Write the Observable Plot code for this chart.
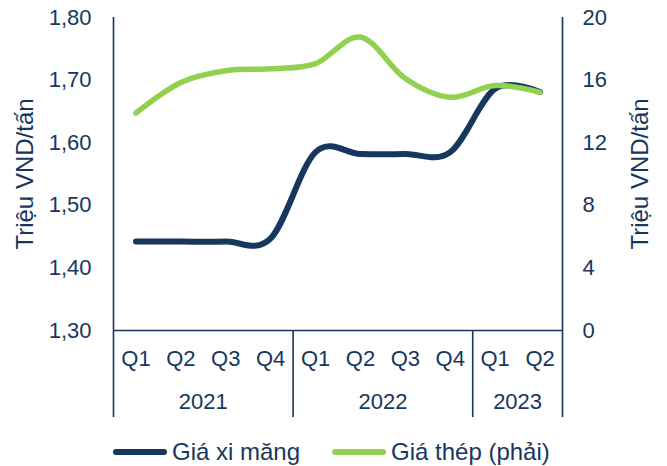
<!DOCTYPE html>
<html><head><meta charset="utf-8">
<script src="https://cdn.jsdelivr.net/npm/d3@7"></script>
<script src="https://cdn.jsdelivr.net/npm/@observablehq/plot@0.6"></script>
<style>
body{margin:0;background:#fff;font-family:"Liberation Sans",Arial,sans-serif;}
#wrap{position:relative;width:667px;height:466px;overflow:hidden;}
#chart svg{display:block;}
.leg{position:absolute;top:436px;height:32px;display:flex;align-items:center;font-size:24px;color:#17375e;white-space:nowrap;}
.sw{display:inline-block;width:54px;height:6px;border-radius:3px;margin-right:5px;}
</style></head><body><div id="wrap"><div id="chart"></div></div>
<script>
const quarters = ["Q1","Q2","Q3","Q4","Q1","Q2","Q3","Q4","Q1","Q2"];
const years = ["2021","2022","2023"];
const yearCounts = [4,4,2];
const cement = [1.442,1.442,1.442,1.447,1.585,1.582,1.582,1.585,1.686,1.681];
const steel = [13.9,15.85,16.6,16.72,17.05,18.75,16.1,14.9,15.65,15.22];
const seriesNames = ["Giá xi măng","Giá thép (phải)"];
const seriesColors = ["#17375e","#92d050"];
const leftTicks = [1.3,1.4,1.5,1.6,1.7,1.8];
const rightTicks = [0,4,8,12,16,20];
const axisTitle = "Triệu VND/tấn";

const leftMin = 1.3, leftMax = 1.8, rightMax = 20;
const toLeft = v => leftMin + v / rightMax * (leftMax - leftMin);
const fromLeft = d => Math.round((d - leftMin) / (leftMax - leftMin) * rightMax);

const cementData = cement.map((v, i) => ({i, v}));
const steelData = steel.map((v, i) => ({i, v: toLeft(v)}));

let start = 0;
const yearCenters = yearCounts.map(c => { const m = start + c / 2 - 0.5; start += c; return m; });
const dividers = [-0.5];
{ let s = -0.5; yearCounts.forEach(c => { s += c; dividers.push(s); }); }

const navy = "#17375e";
const chart = Plot.plot({
  width: 667, height: 432,
  marginLeft: 113, marginRight: 105, marginTop: 17, marginBottom: 102,
  style: {fontFamily: '"Liberation Sans", Arial, sans-serif', fontSize: "22px", color: navy, background: "#fff"},
  x: {domain: [-0.5, 9.5]},
  y: {domain: [leftMin, leftMax]},
  marks: [
    Plot.axisY(leftTicks, {anchor: "left", tickSize: 0, tickPadding: 22, label: null, fontSize: 22,
      tickFormat: d => d.toFixed(2).replace(".", ",")}),
    Plot.axisY(rightTicks.map(toLeft), {anchor: "right", tickSize: 0, tickPadding: 20, label: null, fontSize: 22,
      tickFormat: d => String(fromLeft(d))}),
    Plot.axisX(d3.range(quarters.length), {tickSize: 0, tickPadding: 20, label: null, fontSize: 22,
      tickFormat: i => quarters[i]}),
    Plot.axisX(yearCenters, {tickSize: 0, tickPadding: 63, label: null, fontSize: 22,
      tickFormat: d => years[yearCenters.indexOf(d)]}),
    Plot.axisX(dividers, {tickSize: 87, tickFormat: () => "", label: null, stroke: navy, strokeWidth: 1.6, strokeOpacity: 1}),
    Plot.ruleX([-0.5, 9.5], {stroke: navy, strokeWidth: 1.6}),
    Plot.ruleY([leftMin], {stroke: navy, strokeWidth: 1.6}),
    Plot.text([axisTitle], {frameAnchor: "left", dx: -88, rotate: -90, fontSize: 24, fill: navy, textAnchor: "middle", lineAnchor: "middle"}),
    Plot.text([axisTitle], {frameAnchor: "right", dx: 78, rotate: -90, fontSize: 24, fill: navy, textAnchor: "middle", lineAnchor: "middle"}),
    Plot.line(cementData, {x: "i", y: "v", curve: "cardinal", stroke: seriesColors[0], strokeWidth: 6, strokeLinecap: "round"}),
    Plot.line(steelData, {x: "i", y: "v", curve: "cardinal", stroke: seriesColors[1], strokeWidth: 5.5, strokeLinecap: "round"})
  ]
});
document.getElementById("chart").appendChild(chart);

const wrap = document.getElementById("wrap");
const legLeft = [113, 332];
seriesNames.forEach((name, k) => {
  const d = document.createElement("div");
  d.className = "leg";
  d.style.left = legLeft[k] + "px";
  const sw = document.createElement("span");
  sw.className = "sw";
  sw.style.background = seriesColors[k];
  d.appendChild(sw);
  d.appendChild(document.createTextNode(name));
  wrap.appendChild(d);
});
</script></body></html>
